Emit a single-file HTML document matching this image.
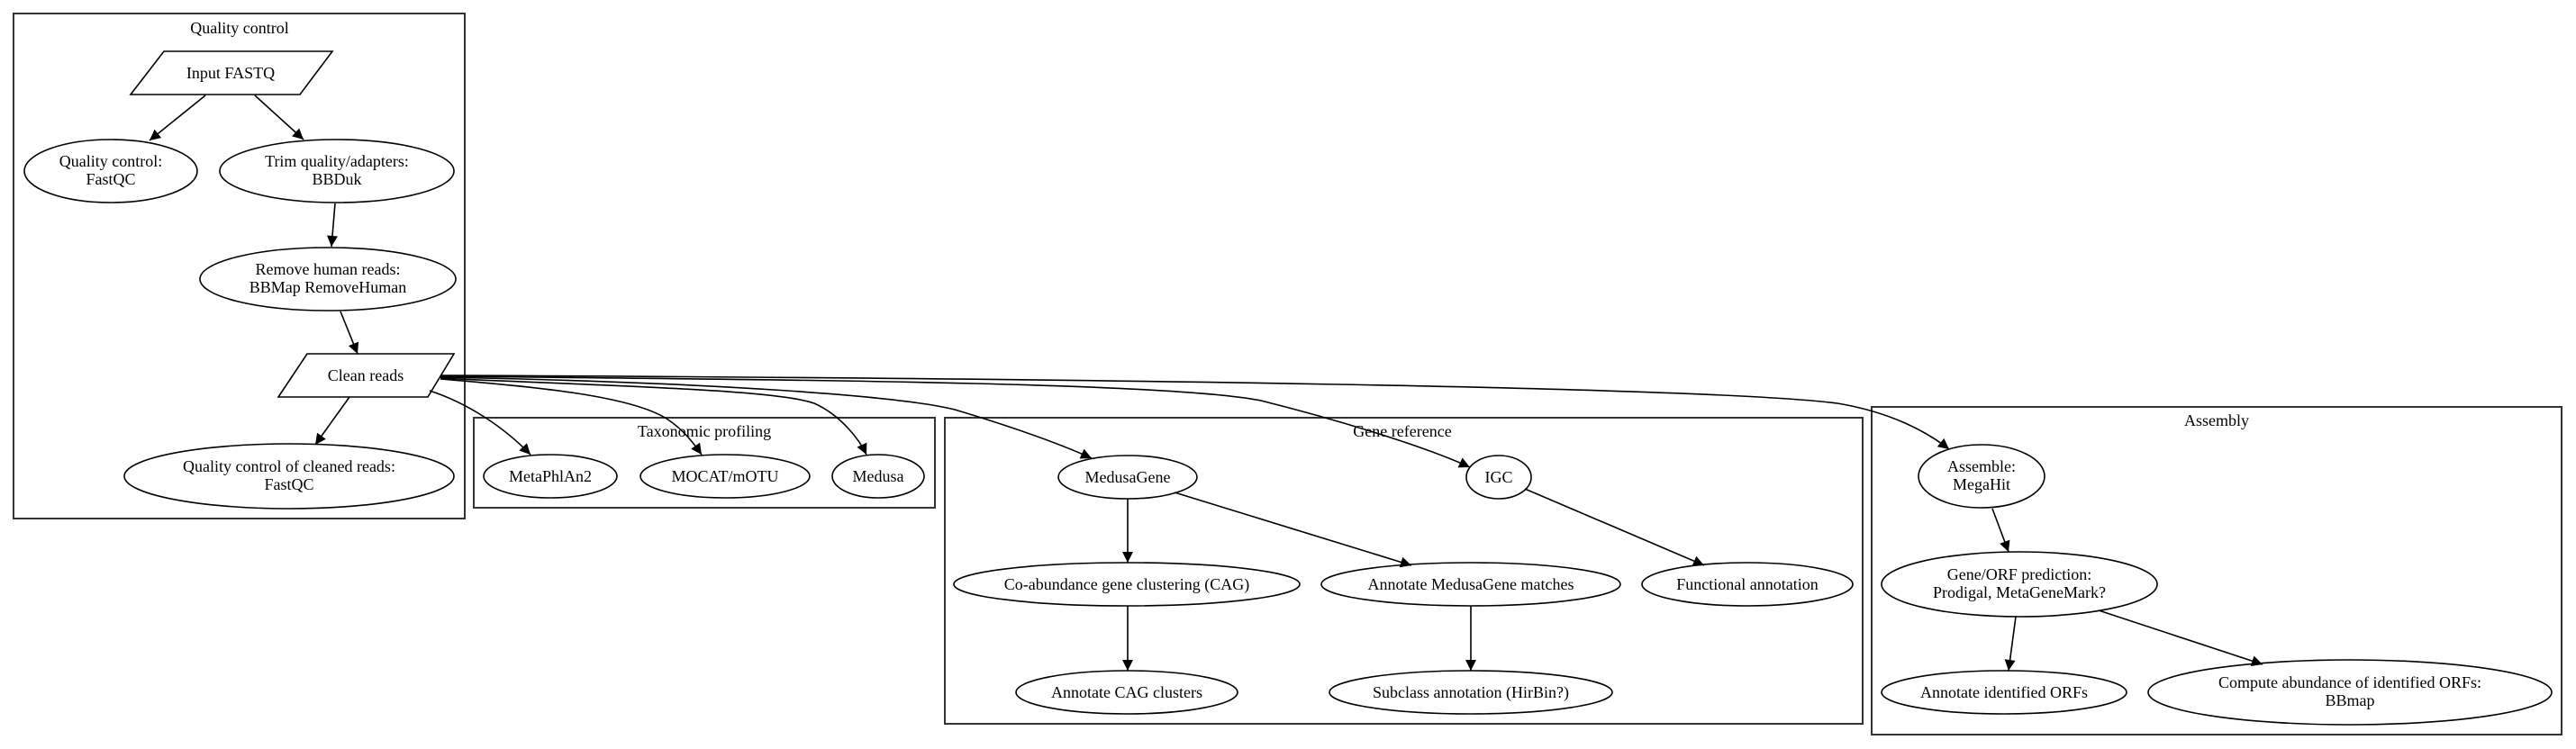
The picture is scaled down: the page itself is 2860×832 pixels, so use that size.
<!DOCTYPE html>
<html><head><meta charset="utf-8"><style>
html,body{margin:0;padding:0;background:#fff;}
svg{display:block;}
text{font-family:"Liberation Serif",serif;font-size:18px;fill:#000;}
</style></head><body>
<svg width="2860" height="832" viewBox="0 0 2860 832" xmlns="http://www.w3.org/2000/svg">
<defs>
<marker id="a" viewBox="0 0 10 10" refX="10" refY="5" markerWidth="16" markerHeight="12" markerUnits="userSpaceOnUse" orient="auto">
<path d="M0,0 L10,5 L0,10 z" fill="#000"/></marker>
</defs>
<g fill="none" stroke="#333" stroke-width="2">
<rect x="15" y="15" width="501" height="561"/>
<rect x="526" y="464" width="512" height="100"/>
<rect x="1049" y="464" width="1019" height="340"/>
<rect x="2078" y="452" width="766" height="364"/>
</g>
<g text-anchor="middle">
<text x="266" y="37">Quality control</text>
<text x="782" y="485">Taxonomic profiling</text>
<text x="1557" y="485">Gene reference</text>
<text x="2461" y="473">Assembly</text>
</g>
<g fill="#fff" stroke="#000" stroke-width="1.6">
<polygon points="182,57 369,57 333,105 145,105"/>
<polygon points="341,393 504,393 475,441 309,441"/>
<ellipse cx="123" cy="190" rx="96" ry="35"/>
<ellipse cx="374" cy="190" rx="130" ry="35"/>
<ellipse cx="364" cy="310" rx="142" ry="35"/>
<ellipse cx="321" cy="529" rx="183" ry="36"/>
<ellipse cx="611" cy="529" rx="74" ry="24"/>
<ellipse cx="805" cy="529" rx="94" ry="24"/>
<ellipse cx="975" cy="529" rx="51" ry="24"/>
<ellipse cx="1252" cy="530" rx="77" ry="24"/>
<ellipse cx="1664" cy="530" rx="36" ry="24"/>
<ellipse cx="1251" cy="649" rx="192" ry="24"/>
<ellipse cx="1633" cy="649" rx="166" ry="24"/>
<ellipse cx="1940" cy="649" rx="117" ry="24"/>
<ellipse cx="1251" cy="769" rx="123" ry="24"/>
<ellipse cx="1633" cy="769" rx="157" ry="24"/>
<ellipse cx="2200" cy="529" rx="70" ry="35"/>
<ellipse cx="2242" cy="649" rx="153" ry="36"/>
<ellipse cx="2225" cy="769" rx="136" ry="24"/>
<ellipse cx="2609" cy="769" rx="224" ry="36"/>
</g>
<g fill="none" stroke="#000" stroke-width="1.6" marker-end="url(#a)">
<path d="M228,106 L166,156"/>
<path d="M283,106 L337,155"/>
<path d="M372,226 L368,274"/>
<path d="M378,346 L397,393"/>
<path d="M388,441 L350,494"/>
<path d="M477,434 C520,448 560,475 589,505"/>
<path d="M489,421 C600,430 700,440 740,465 C760,478 772,495 779,505"/>
<path d="M489,420 C650,428 860,432 904,448 C935,462 955,490 962,505"/>
<path d="M489,419 C800,425 1000,440 1060,455 C1110,470 1170,490 1212,509"/>
<path d="M489,418 C900,422 1300,425 1400,445 C1480,465 1580,495 1632,519"/>
<path d="M489,417 C1200,420 1900,430 2040,448 C2100,458 2140,480 2164,499"/>
<path d="M1252,554 L1252,625"/>
<path d="M1304,547 L1567,628"/>
<path d="M1693,543 L1892,628"/>
<path d="M1252,673 L1252,745"/>
<path d="M1633,673 L1633,745"/>
<path d="M2212,565 L2230,613"/>
<path d="M2238,685 L2230,745"/>
<path d="M2330,678 L2512,738"/>
</g>
<g text-anchor="middle">
<text x="256" y="87">Input FASTQ</text>
<text x="406" y="423">Clean reads</text>
<text x="123" y="185">Quality control:</text><text x="123" y="205">FastQC</text>
<text x="374" y="185">Trim quality/adapters:</text><text x="374" y="205">BBDuk</text>
<text x="364" y="305">Remove human reads:</text><text x="364" y="325">BBMap RemoveHuman</text>
<text x="321" y="524">Quality control of cleaned reads:</text><text x="321" y="544">FastQC</text>
<text x="611" y="535">MetaPhlAn2</text>
<text x="805" y="535">MOCAT/mOTU</text>
<text x="975" y="535">Medusa</text>
<text x="1252" y="536">MedusaGene</text>
<text x="1664" y="536">IGC</text>
<text x="1251" y="655">Co-abundance gene clustering (CAG)</text>
<text x="1633" y="655">Annotate MedusaGene matches</text>
<text x="1940" y="655">Functional annotation</text>
<text x="1251" y="775">Annotate CAG clusters</text>
<text x="1633" y="775">Subclass annotation (HirBin?)</text>
<text x="2200" y="524">Assemble:</text><text x="2200" y="544">MegaHit</text>
<text x="2242" y="644">Gene/ORF prediction:</text><text x="2242" y="664">Prodigal, MetaGeneMark?</text>
<text x="2225" y="775">Annotate identified ORFs</text>
<text x="2609" y="764">Compute abundance of identified ORFs:</text><text x="2609" y="784">BBmap</text>
</g>
</svg>
</body></html>
